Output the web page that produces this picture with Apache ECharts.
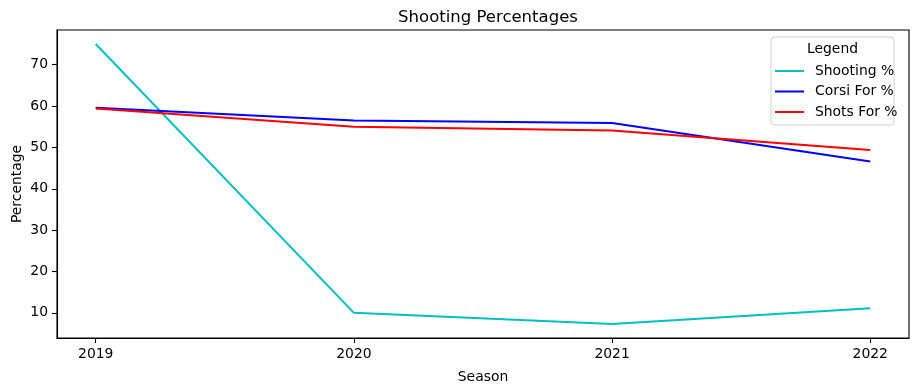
<!DOCTYPE html>
<html>
<head>
<meta charset="utf-8">
<script src="https://cdn.jsdelivr.net/npm/echarts@6/dist/echarts.min.js"></script>
<style>
html,body{margin:0;padding:0;background:#fff;}
#chart{width:919px;height:391px;}
</style>
</head>
<body>
<div id="chart"></div>
<script>
const seasons = [2019, 2020, 2021, 2022];
const shootingPct = [75.0, 10.0, 7.3, 11.1];
const corsiForPct = [59.6, 56.5, 55.9, 46.6];
const shotsForPct = [59.4, 55.0, 54.1, 49.4];
const yTicks = [10, 20, 30, 40, 50, 60, 70];
const seriesNames = ['Shooting %', 'Corsi For %', 'Shots For %'];
const seriesColors = ['#00bfbf', '#0000ff', '#ff0000'];

const FONT = 'DejaVu Sans';
const chart = echarts.init(document.getElementById('chart'));

function pairs(vals){ return seasons.map((s,i)=>[s, vals[i]]); }
const allVals = [shootingPct, corsiForPct, shotsForPct];

chart.setOption({
  animation: false,
  backgroundColor: '#fff',
  textStyle: { fontFamily: FONT },
  title: {
    text: 'Shooting Percentages',
    left: 483, top: 4, textAlign: 'center',
    textStyle: { fontFamily: FONT, fontSize: 16.5, fontWeight: 'normal', color: '#000' }
  },
  grid: { left: 57, right: 10, top: 30, bottom: 53, outerBoundsMode: 'none', containLabel: false,
          show: true, borderColor: '#000', borderWidth: 1.1, backgroundColor: 'transparent' },
  xAxis: {
    type: 'value',
    min: v => v.min - (v.max - v.min) * 0.05,
    max: v => v.max + (v.max - v.min) * 0.05,
    name: 'Season', nameLocation: 'middle', nameGap: 32, nameMoveOverlap: false,
    nameTextStyle: { fontFamily: FONT, fontSize: 13.9, color: '#000' },
    axisLine: { show: true, lineStyle: { color: '#000', width: 1.1 } },
    axisTick: { show: true, length: 5, lineStyle: { color: '#000', width: 1.1 }, customValues: seasons },
    axisLabel: { customValues: seasons, margin: 9, fontFamily: FONT, fontSize: 13.9, color: '#000', formatter: v => String(v) },
    splitLine: { show: false }
  },
  yAxis: {
    type: 'value',
    min: v => v.min - (v.max - v.min) * 0.05,
    max: v => v.max + (v.max - v.min) * 0.05,
    name: 'Percentage', nameLocation: 'middle', nameGap: 33, nameMoveOverlap: false,
    nameTextStyle: { fontFamily: FONT, fontSize: 13.9, color: '#000' },
    axisLine: { show: true, lineStyle: { color: '#000', width: 1.1 } },
    axisTick: { show: true, length: 5, lineStyle: { color: '#000', width: 1.1 }, customValues: yTicks },
    axisLabel: { customValues: yTicks, margin: 9, fontFamily: FONT, fontSize: 13.9, color: '#000' },
    splitLine: { show: false }
  },
  legend: {
    orient: 'vertical',
    left: 770, top: 59,
    icon: 'rect',
    itemWidth: 29, itemHeight: 2, itemGap: 6.5,
    z: 10,
    data: seriesNames,
    textStyle: { fontFamily: FONT, fontSize: 13.9, color: '#000', padding: [0, 0, 0, 6] }
  },
  graphic: [
    { type: 'rect', shape: { x: 771, y: 37, width: 123, height: 88, r: 3 }, style: { fill: 'rgba(255,255,255,0.8)', stroke: '#d0d0d0', lineWidth: 1 }, z: 3 },
    { type: 'text', style: { text: 'Legend', x: 832.5, y: 49.5, align: 'center', verticalAlign: 'middle', fontFamily: FONT, fontSize: 13.9, fill: '#000' }, z: 11 }
  ],
  series: seriesNames.map((n, i) => ({
    name: n, type: 'line', data: pairs(allVals[i]),
    symbol: 'none', color: seriesColors[i],
    lineStyle: { width: 2, color: seriesColors[i] },
    z: 2
  }))
});
</script>
</body>
</html>
